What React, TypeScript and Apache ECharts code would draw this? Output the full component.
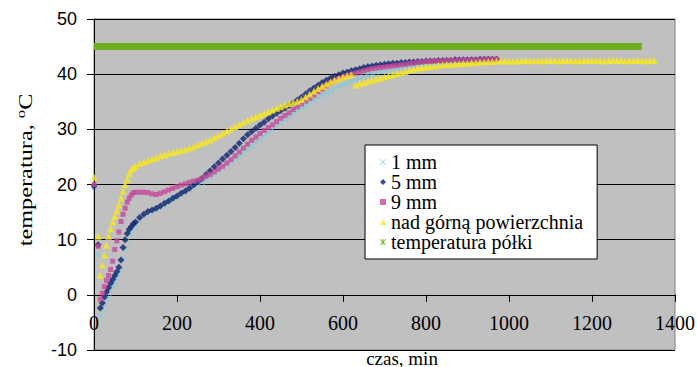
import React, { useEffect, useRef } from "react";
import * as echarts from "echarts";

// ---- data ----
const timeMin = [
  0, 10, 15, 20, 25, 30, 35, 40, 45, 50,
  55, 60, 65, 70, 75, 80, 85, 90, 95, 100,
  110, 120, 130, 140, 150, 160, 170, 180, 190, 200,
  210, 220, 230, 240, 250, 260, 270, 280, 290, 300,
  310, 320, 330, 340, 350, 360, 370, 380, 390, 400,
  410, 420, 430, 440, 450, 460, 470, 480, 490, 500,
  510, 520, 530, 540, 550, 560, 570, 580, 590, 600,
  610, 620, 630, 640, 650, 660, 670, 680, 690, 700,
  710, 720, 730, 740, 750, 760, 770, 780, 790, 800,
  810, 820, 830, 840, 850, 860, 870, 880, 890, 900,
  910, 920, 930, 940, 950, 960, 970, 980, 990, 1000,
  1010, 1020, 1030, 1040, 1050, 1060, 1070, 1080, 1090, 1100,
  1110, 1120, 1130, 1140, 1150, 1160, 1170, 1180, 1190, 1200,
  1210, 1220, 1230, 1240, 1250, 1260, 1270, 1280, 1290, 1300,
  1310, 1320, 1330, 1340, 1350,
];

const probe1mm = [
  19.5, 7.3, -3.9, -2.6, -1.5, -0.6, 0.3, 1.1, 1.8, 2.5,
  3.1, 3.8, 4.8, 6.6, 8.2, 9.8, 10.9, 11.7, 12.3, 12.8,
  13.6, 14.3, 14.8, 15.2, 15.6, 16.0, 16.4, 16.9, 17.3, 17.8,
  18.3, 18.8, 19.2, 19.6, 20.0, 20.4, 20.9, 21.4, 21.9, 22.4,
  22.9, 23.5, 24.1, 24.6, 25.1, 25.7, 26.3, 26.9, 27.6, 28.2,
  28.8, 29.4, 30.0, 30.6, 31.2, 31.8, 32.4, 32.9, 33.4, 33.9,
  34.4, 34.9, 35.4, 35.8, 36.2, 36.6, 37.0, 37.4, 37.8, 38.1,
  38.4, 38.7, 39.0, 39.3, 39.6, 39.9, 40.1, 40.3, 40.5, 40.7,
  40.9, 41.0, 41.2, 41.3, 41.5, 41.6, 41.7, 41.8, 41.9, 42.0,
  42.1, 42.2, 42.2, 42.3, 42.3, 42.4, 42.4, 42.4, 42.5, 42.5,
  42.5, 42.5, 42.5, 42.6, 42.6, 42.6, 42.6,
];

const probe5mm = [
  19.7, 9.1, -2.4, -1.5, -0.4, 0.5, 1.3, 2.1, 2.8, 3.5,
  4.2, 5.0, 6.3, 8.6, 10.0, 11.1, 11.9, 12.4, 12.9, 13.2,
  14.0, 14.6, 15.1, 15.4, 15.7, 16.1, 16.6, 17.0, 17.5, 17.9,
  18.4, 18.8, 19.3, 19.9, 20.5, 21.1, 21.8, 22.5, 23.2, 23.9,
  24.6, 25.3, 26.0, 26.7, 27.5, 28.3, 29.0, 29.6, 30.2, 30.8,
  31.3, 31.9, 32.4, 32.9, 33.4, 33.8, 34.3, 34.8, 35.3, 35.8,
  36.4, 37.0, 37.5, 38.0, 38.5, 38.9, 39.3, 39.6, 39.9, 40.2,
  40.4, 40.6, 40.8, 41.0, 41.2, 41.4, 41.5, 41.6, 41.7, 41.8,
  41.9, 42.0, 42.0, 42.1, 42.1, 42.2, 42.2, 42.3, 42.3, 42.4,
  42.4, 42.4, 42.5, 42.5, 42.5, 42.5, 42.6, 42.6, 42.6, 42.6,
  42.6, 42.6, 42.7, 42.7, 42.7, 42.7, 42.7,
];

const probe9mm = [
  20.0, 8.8, -0.8, 0.3, 1.5, 2.6, 3.5, 4.6, 6.1, 8.2,
  9.8, 11.4, 13.3, 14.6, 15.7, 16.8, 17.5, 18.1, 18.5, 18.6,
  18.6, 18.6, 18.5, 18.3, 18.2, 18.4, 18.7, 19.0, 19.3, 19.6,
  19.9, 20.1, 20.4, 20.6, 20.8, 21.1, 21.5, 21.8, 22.3, 22.8,
  23.3, 23.9, 24.5, 25.2, 25.9, 26.6, 27.3, 28.0, 28.6, 29.2,
  29.8, 30.3, 30.8, 31.4, 32.0, 32.5, 33.0, 33.6, 34.1, 34.6,
  35.1, 35.6, 36.2, 36.8, 37.3, 37.9, 38.4, 38.8, 39.2, 39.5,
  39.8, 40.0, 40.2, 40.4, 40.6, 40.8, 41.0, 41.1, 41.2, 41.3,
  41.4, 41.5, 41.6, 41.7, 41.8, 41.9, 42.0, 42.1, 42.2, 42.3,
  42.3, 42.4, 42.4, 42.4, 42.5, 42.5, 42.5, 42.6, 42.6, 42.6,
  42.6, 42.6, 42.6, 42.7, 42.7, 42.7, 42.7,
];

const aboveTopSurface = [
  21.3, 10.6, 3.5, 5.4, 7.2, 9.0, 10.6, 12.0, 13.2, 14.2,
  15.3, 16.3, 17.5, 18.8, 20.0, 21.0, 22.0, 22.7, 23.1, 23.4,
  23.8, 24.1, 24.4, 24.6, 24.9, 25.2, 25.4, 25.6, 25.8, 26.0,
  26.2, 26.4, 26.6, 26.9, 27.2, 27.5, 27.8, 28.1, 28.5, 28.9,
  29.3, 29.7, 30.1, 30.5, 30.9, 31.3, 31.7, 32.0, 32.3, 32.6,
  32.9, 33.2, 33.5, 33.8, 34.1, 34.4, 34.7, 34.9, 35.1, 35.4,
  35.9, 36.4, 36.9, 37.4, 37.8, 38.2, 38.6, 38.9, 39.2, 39.5,
  39.7, 39.9, 38.0, 38.3, 38.5, 38.7, 38.9, 39.1, 39.3, 39.5,
  39.7, 39.9, 40.1, 40.3, 40.5, 40.8, 40.9, 41.1, 41.2, 41.3,
  41.4, 41.5, 41.6, 41.7, 41.8, 41.8, 41.9, 41.9, 42.0, 42.0,
  42.1, 42.1, 42.2, 42.2, 42.3, 42.3, 42.4, 42.4, 42.4, 42.4,
  42.4, 42.4, 42.5, 42.5, 42.4, 42.5, 42.5, 42.4, 42.5, 42.5,
  42.5, 42.4, 42.5, 42.5, 42.5, 42.4, 42.5, 42.5, 42.5, 42.5,
  42.5, 42.5, 42.4, 42.5, 42.5, 42.5, 42.5, 42.4, 42.5, 42.5,
  42.5, 42.5, 42.4, 42.5, 42.5,
];

const shelfTime = [0, 1320];
const shelfTemp = [45, 45];

const seriesNames = ["1 mm", "5 mm", "9 mm", "nad górną powierzchnia", "temperatura półki"];
const xAxisRange = { min: 0, max: 1400, interval: 200 };
const yAxisRange = { min: -10, max: 50, interval: 10 };

const crossPath = "path://M0,1L1,0L5,4L9,0L10,1L6,5L10,9L9,10L5,6L1,10L0,9L4,5Z";
const starPath = "path://M0,1L1,0L5,4L9,0L10,1L6,5L10,9L9,10L5,6L1,10L0,9L4,5ZM4.3,0L5.7,0L5.7,10L4.3,10Z";

const SERIF = "Liberation Serif";
const SANS = "Liberation Sans";

// layout
const W = 697;
const H = 367;
const GRID = { left: 94, top: 19, right: 22, bottom: 17 };
const plotHeight = H - GRID.top - GRID.bottom;
// move the x axis up so that it lies on the zero line (Excel-style crossing)
const xAxisOffset = -((0 - yAxisRange.min) / (yAxisRange.max - yAxisRange.min)) * plotHeight;

const pair = (vals: number[]) => vals.map((v, i) => [timeMin[i], v]);

export default function App() {
  const ref = useRef<HTMLDivElement>(null);
  useEffect(() => {
    if (!ref.current) return;
    const chart = echarts.init(ref.current, undefined, { renderer: "svg" });
    chart.setOption({
      animation: false,
      backgroundColor: "#ffffff",
      grid: {
        ...GRID,
        containLabel: false,
        outerBoundsMode: "none",
        show: true,
        backgroundColor: "#c0c0c0",
        borderColor: "#808080",
        borderWidth: 1,
      },
      xAxis: {
        type: "value",
        position: "bottom",
        offset: xAxisOffset,
        min: xAxisRange.min,
        max: xAxisRange.max,
        interval: xAxisRange.interval,
        axisLine: { show: true, onZero: false, lineStyle: { color: "#000", width: 1 } },
        axisTick: { show: true, length: 7, lineStyle: { color: "#000" } },
        axisLabel: {
          fontFamily: SERIF,
          fontSize: 20,
          color: "#000",
          margin: 18,
          formatter: (v: number) => String(v),
        },
        splitLine: { show: false },
      },
      yAxis: {
        type: "value",
        min: yAxisRange.min,
        max: yAxisRange.max,
        interval: yAxisRange.interval,
        axisLine: { show: true, onZero: false, lineStyle: { color: "#000", width: 1 } },
        axisTick: { show: true, length: 7, lineStyle: { color: "#000" } },
        axisLabel: {
          fontFamily: SANS,
          fontSize: 18,
          color: "#000",
          margin: 17,
          formatter: (v: number) => String(v),
        },
        splitLine: { show: true, lineStyle: { color: "#000", width: 1 } },
      },
      legend: {
        orient: "vertical",
        left: 365,
        top: 145,
        backgroundColor: "#ffffff",
        borderColor: "#000",
        borderWidth: 1,
        borderRadius: 0,
        padding: [7, 14, 7, 15],
        itemGap: 0,
        itemWidth: 6,
        itemHeight: 6,
        textStyle: { fontFamily: SERIF, fontSize: 20, color: "#000", lineHeight: 20 },
        data: [
          { name: seriesNames[0], icon: crossPath },
          { name: seriesNames[1], icon: "diamond" },
          { name: seriesNames[2], icon: "rect" },
          { name: seriesNames[3], icon: "triangle" },
          { name: seriesNames[4], icon: starPath },
        ],
      },
      graphic: [
        {
          type: "text",
          x: 26,
          y: 170,
          rotation: Math.PI / 2,
          scaleX: 1.28,
          style: {
            text: "temperatura, {sup|o}C",
            fontFamily: SERIF,
            fontSize: 19,
            fill: "#000",
            align: "center",
            verticalAlign: "middle",
            rich: {
              sup: { fontFamily: SERIF, fontSize: 13, fill: "#000", verticalAlign: "top", padding: [0, 0, 10, 0] },
            },
          },
        },
        {
          type: "text",
          x: 402,
          y: 358,
          style: {
            text: "czas, min",
            fontFamily: SERIF,
            fontSize: 19,
            fill: "#000",
            align: "center",
            verticalAlign: "middle",
          },
        },
      ],
      series: [
        {
          name: seriesNames[0],
          type: "scatter",
          symbol: crossPath,
          symbolSize: 6,
          itemStyle: { color: "#6fcde0" },
          data: pair(probe1mm),
        },
        {
          name: seriesNames[1],
          type: "scatter",
          symbol: "diamond",
          symbolSize: 7,
          itemStyle: { color: "#10226e" },
          data: pair(probe5mm),
        },
        {
          name: seriesNames[2],
          type: "scatter",
          symbol: "rect",
          symbolSize: 5,
          itemStyle: { color: "#c4489a" },
          data: pair(probe9mm),
        },
        {
          name: seriesNames[3],
          type: "scatter",
          symbol: "triangle",
          symbolSize: 7,
          itemStyle: { color: "#f8e81c" },
          data: pair(aboveTopSurface),
        },
        {
          name: seriesNames[4],
          type: "line",
          symbol: "none",
          itemStyle: { color: "#6fae1e" },
          lineStyle: { color: "#6fae1e", width: 7 },
          data: shelfTime.map((t, i) => [t, shelfTemp[i]]),
        },
      ],
    });
    return () => chart.dispose();
  }, []);
  return (
    <div
      ref={ref}
      style={{ position: "absolute", left: 0, top: 0, width: W, height: H }}
    />
  );
}
